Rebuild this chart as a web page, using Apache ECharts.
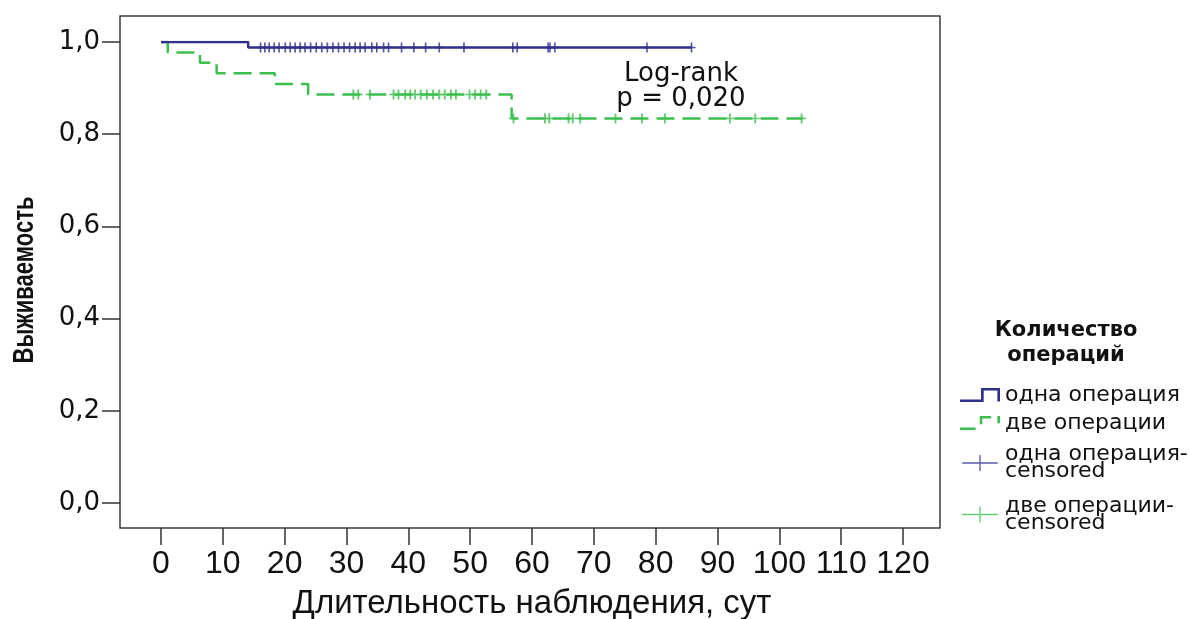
<!DOCTYPE html>
<html>
<head>
<meta charset="utf-8">
<script src="https://cdn.jsdelivr.net/npm/echarts@6/dist/echarts.min.js"></script>
<style>
  html, body { margin: 0; padding: 0; background: #fff; }
  #chart { width: 1189px; height: 619px; }
</style>
</head>
<body>
<div id="chart"></div>
<script>
// Kaplan-Meier: время (сут) и выживаемость в точках ступеней
const oneOpTimes = [0, 14.1, 85.8];
const oneOpSurv = [1.0, 0.988, 0.988];
const twoOpTimes = [0, 1.1, 6.3, 9.0, 18.4, 23.8, 56.7, 103.8];
const twoOpSurv = [1.0, 0.977, 0.955, 0.932, 0.909, 0.886, 0.834, 0.834];

// цензурированные наблюдения
const oneOpCensTimes = [
  16.1, 16.8, 17.5, 18.3, 19.1, 20.1, 20.9, 21.7, 22.5, 23.3, 24.2, 25.1, 26.0,
  26.9, 27.8, 28.7, 29.6, 30.5, 31.4, 32.2, 33.0, 34.1, 34.9, 36.0, 36.8,
  38.9, 40.9, 42.8, 45.0, 49.0, 56.9, 57.6, 62.6, 62.9, 63.7, 78.6, 85.8,
];
const oneOpCensSurv = 0.988;
const twoOpCensTimesA = [
  31.1, 31.9, 33.8, 37.6, 38.4, 39.5, 40.3, 41.1, 42.0, 43.0, 44.0, 45.0, 45.9,
  46.9, 47.7, 49.9, 50.8, 51.7, 52.6,
];
const twoOpCensSurvA = 0.886;
const twoOpCensTimesB = [57.0, 62.1, 62.8, 65.9, 66.6, 67.8, 73.5, 77.8, 81.5, 92.0, 96.1, 103.6];
const twoOpCensSurvB = 0.834;

const xTicks = [0, 10, 20, 30, 40, 50, 60, 70, 80, 90, 100, 110, 120];
const yTicks = [0, 0.2, 0.4, 0.6, 0.8, 1.0];

const NAVY = "#2f2f8c";
const GREEN = "#3dbf4f";

const chart = echarts.init(document.getElementById("chart"));

const plusPath = "path://M0,8.25L19.25,8.25L19.25,0L20.75,0L20.75,8.25L40,8.25L40,9.75L20.75,9.75L20.75,18L19.25,18L19.25,9.75L0,9.75Z";
const tickPath = "path://M0,4.3L3.8,4.3L3.8,0L5.8,0L5.8,4.3L9.6,4.3L9.6,5.7L5.8,5.7L5.8,10L3.8,10L3.8,5.7L0,5.7Z";

const toPairs = (xs, ys) => xs.map((x, i) => [x, Array.isArray(ys) ? ys[i] : ys]);

const option = {
  animation: false,
  grid: {
    left: 161,
    right: 286,
    top: 42,
    bottom: 116,
    outerBoundsMode: "none",
    containLabel: false,
  },
  graphic: [
    {
      type: "rect",
      shape: { x: 120, y: 16, width: 820, height: 512 },
      style: { fill: "none", stroke: "#3a3a3a", lineWidth: 1.5 },
      z: 0,
    },
    {
      type: "text",
      x: 25,
      y: 280,
      rotation: Math.PI / 2,
      scaleY: 1.3,
      style: {
        text: "Выживаемость",
        align: "center",
        verticalAlign: "middle",
        font: "bold 22px 'Liberation Sans'",
        fill: "#111",
      },
    },
    {
      type: "text",
      x: 681,
      y: 62,
      style: {
        text: "Log-rank\np = 0,020",
        align: "center",
        verticalAlign: "top",
        font: "26px 'DejaVu Sans'",
        lineHeight: 25,
        fill: "#111",
      },
    },
    {
      type: "text",
      x: 1066,
      y: 318,
      style: {
        text: "Количество\nопераций",
        align: "center",
        verticalAlign: "top",
        font: "bold 21px 'DejaVu Sans'",
        lineHeight: 25,
        fill: "#111",
      },
    },
  ],
  legend: {
    orient: "vertical",
    left: 960,
    top: 384,
    padding: 0,
    itemWidth: 40,
    itemHeight: 16,
    itemGap: 6,
    itemStyle: { borderWidth: 0 },
    textStyle: {
      fontFamily: "DejaVu Sans",
      fontSize: 22,
      lineHeight: 17,
      color: "#111",
    },
    formatter: (name) => name.replace("-censored", "-\ncensored"),
    data: [
      { name: "одна операция", icon: "path://M0,11L20,11L20,0L38,0L38,13L35.5,13L35.5,2.5L22.5,2.5L22.5,13.5L0,13.5Z" },
      { name: "две операции", icon: "path://M0,11L15,11L15,13.5L0,13.5Z M19,0L30,0L30,2.5L21.5,2.5L21.5,8L19,8Z M36,0L38.5,0L38.5,7L36,7Z" },
      { name: "одна операция-censored", icon: plusPath, textStyle: { padding: [12, 0, 0, 0] } },
      { name: "две операции-censored", icon: plusPath, textStyle: { padding: [11, 0, 0, 0] } },
    ],
  },
  xAxis: {
    type: "value",
    min: 0,
    max: 120,
    interval: 10,
    offset: 25,
    name: "Длительность наблюдения, сут",
    nameLocation: "middle",
    nameGap: 59,
    nameTextStyle: { fontFamily: "Liberation Sans", fontSize: 33, color: "#111" },
    axisLine: { show: false, onZero: false },
    axisTick: { show: true, length: 17, lineStyle: { color: "#333", width: 1.5 } },
    axisLabel: { margin: 20, fontFamily: "Liberation Sans", fontSize: 32, color: "#111" },
    splitLine: { show: false },
  },
  yAxis: {
    type: "value",
    min: 0,
    max: 1,
    interval: 0.2,
    offset: 41,
    axisLine: { show: false, onZero: false },
    axisTick: { show: true, length: 18, lineStyle: { color: "#333", width: 1.5 } },
    axisLabel: {
      margin: 20,
      fontFamily: "DejaVu Sans",
      fontSize: 26,
      color: "#111",
      formatter: (v) => v.toFixed(1).replace(".", ","),
    },
    splitLine: { show: false },
  },
  series: [
    {
      name: "одна операция",
      type: "line",
      step: "end",
      symbol: "none",
      color: NAVY,
      lineStyle: { width: 2.5, color: NAVY },
      data: toPairs(oneOpTimes, oneOpSurv),
      z: 3,
    },
    {
      name: "две операции",
      type: "line",
      step: "end",
      symbol: "none",
      color: GREEN,
      lineStyle: { width: 2.5, color: GREEN, type: [18, 8] },
      data: toPairs(twoOpTimes, twoOpSurv),
      z: 2,
    },
    {
      name: "одна операция-censored",
      type: "scatter",
      symbol: tickPath,
      symbolSize: [8, 10],
      color: NAVY,
      itemStyle: { color: NAVY },
      data: toPairs(oneOpCensTimes, oneOpCensSurv),
      z: 4,
    },
    {
      name: "две операции-censored",
      type: "scatter",
      symbol: tickPath,
      symbolSize: [9, 10],
      color: GREEN,
      itemStyle: { color: GREEN },
      data: toPairs(twoOpCensTimesA, twoOpCensSurvA).concat(toPairs(twoOpCensTimesB, twoOpCensSurvB)),
      z: 4,
    },
  ],
};

chart.setOption(option);
</script>
</body>
</html>
